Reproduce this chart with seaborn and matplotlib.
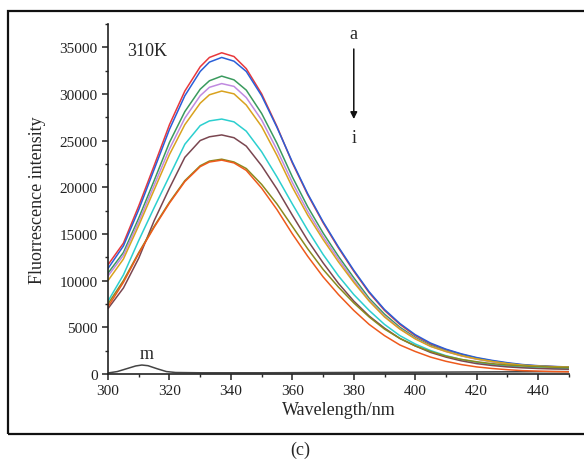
import numpy as np
import pandas as pd
import seaborn as sns
import matplotlib.pyplot as plt
from matplotlib.patches import Rectangle
from matplotlib.ticker import MultipleLocator

wavelength = [300, 305, 310, 315, 320, 325, 330, 333, 337, 341, 345, 350, 355, 360, 365, 370, 375, 380,
              385, 390, 395, 400, 405, 410, 415, 420, 425, 430, 435, 440, 445, 450]

a = [11700, 14000, 18000, 22300, 26700, 30300, 32900, 33900, 34400, 34000, 32700, 30000, 26500, 22600, 19200,
     16200, 13500, 11000, 8700, 6800, 5300, 4100, 3200, 2600, 2100, 1700, 1400, 1150, 950, 850, 780, 720]
b = [11300, 13700, 17600, 21900, 26200, 29800, 32400, 33400, 33900, 33500, 32400, 29800, 26400, 22700, 19300,
     16300, 13600, 11100, 8800, 6900, 5400, 4200, 3300, 2650, 2150, 1750, 1450, 1200, 1000, 880, 800, 740]
c = [10800, 13000, 16700, 20700, 24800, 28100, 30500, 31400, 31900, 31500, 30400, 27900, 24700, 21100, 17900,
     15100, 12600, 10300, 8100, 6400, 5000, 3900, 3050, 2450, 1980, 1620, 1340, 1100, 920, 820, 750, 700]
d = [10500, 12700, 16300, 20200, 24100, 27400, 29800, 30700, 31100, 30800, 29600, 27200, 24000, 20500, 17400,
     14700, 12300, 10000, 7900, 6200, 4850, 3800, 2950, 2400, 1930, 1570, 1300, 1070, 900, 800, 730, 680]
e = [10000, 12300, 15900, 19700, 23500, 26700, 29000, 29900, 30300, 30000, 28800, 26500, 23400, 20000, 17000,
     14400, 12000, 9800, 7800, 6100, 4800, 3750, 2950, 2400, 1950, 1600, 1330, 1100, 930, 830, 770, 720]
f = [7800, 10600, 14300, 17800, 21200, 24600, 26600, 27100, 27300, 27000, 26000, 23800, 21100, 18200, 15400,
     12800, 10500, 8500, 6800, 5300, 4100, 3200, 2500, 1950, 1550, 1250, 1000, 850, 720, 640, 590, 550]
g = [7000, 9200, 12400, 16400, 19900, 23200, 25000, 25400, 25600, 25300, 24400, 22300, 19800, 17000, 14300,
     11900, 9700, 7800, 6200, 4900, 3800, 3000, 2300, 1800, 1400, 1100, 900, 750, 650, 580, 530, 500]
h = [7500, 10000, 13000, 15800, 18400, 20700, 22300, 22800, 23000, 22700, 22000, 20300, 18200, 15800, 13400,
     11200, 9300, 7600, 6100, 4800, 3800, 3000, 2400, 1900, 1550, 1300, 1100, 950, 850, 780, 720, 680]
i = [7200, 9800, 12900, 15700, 18300, 20600, 22200, 22700, 22900, 22600, 21800, 19900, 17600, 15000, 12600,
     10400, 8500, 6800, 5300, 4100, 3100, 2400, 1800, 1350, 1000, 750, 580, 450, 350, 300, 250, 220]

m_wavelength = [300, 303, 306, 309, 311, 313, 316, 319, 322, 330, 350, 400, 450]
m = [100, 250, 550, 850, 950, 880, 550, 250, 150, 120, 120, 180, 250]

series = {"a": a, "b": b, "c": c, "d": d, "e": e, "f": f, "g": g, "h": h, "i": i}
colors = ["#e8383c", "#2a5fd8", "#3a9a5e", "#c08ae0", "#d9a21e",
          "#2ccfcf", "#7a4650", "#8a8a1e", "#ee5a1c"]

frames = [pd.DataFrame({"Wavelength": wavelength, "Intensity": v, "curve": k}) for k, v in series.items()]
df = pd.concat(frames, ignore_index=True)
df_m = pd.DataFrame({"Wavelength": m_wavelength, "Intensity": m})

sns.set_style("ticks")
plt.rcParams['font.family'] = ['Liberation Serif', 'DejaVu Serif']

fig = plt.figure(figsize=(5.84, 4.60), dpi=100)
ax = fig.add_axes([0.185, 0.185, 0.789, 0.761])

sns.lineplot(data=df_m, x="Wavelength", y="Intensity", color="#444444", lw=1.1, ax=ax)
sns.lineplot(data=df, x="Wavelength", y="Intensity", hue="curve", palette=colors,
             lw=1.1, legend=False, ax=ax)

ax.set_xlim(300, 450)
ax.set_ylim(0, 37500)
ax.xaxis.set_major_locator(MultipleLocator(20))
ax.xaxis.set_minor_locator(MultipleLocator(10))
ax.yaxis.set_major_locator(MultipleLocator(5000))
ax.yaxis.set_minor_locator(MultipleLocator(2500))
ax.tick_params(which="major", direction="out", length=4, width=1.1, labelsize=11, colors="#222222")
ax.tick_params(which="minor", direction="out", length=2.5, width=1.0)
sns.despine(ax=ax)
for s in ["left", "bottom"]:
    ax.spines[s].set_linewidth(1.2)
    ax.spines[s].set_color("#222222")

ax.set_xlabel("Wavelength/nm", fontsize=13, labelpad=3)
ax.set_ylabel("Fluorrescence intensity", fontsize=13, labelpad=10)

ax.text(306.2, 34600, "310K", fontsize=13, va="center", ha="left")
ax.text(380, 36500, "a", fontsize=13, va="center", ha="center")
ax.text(380, 25300, "i", fontsize=13, va="center", ha="center")
ax.annotate("", xy=(380, 27000), xytext=(380, 35100),
            arrowprops=dict(arrowstyle="-|>", color="#111111", lw=1.1, mutation_scale=10))
ax.text(312.7, 2200, "m", fontsize=13, va="center", ha="center")

fig.patches.append(Rectangle((8 / 584, 1 - 435 / 460), 1.0, (435 - 12) / 460,
                             transform=fig.transFigure, fill=False, lw=1.6,
                             edgecolor="#111111", clip_on=False))
fig.text(300 / 584, 1 - 450 / 460, "(c)", fontsize=13, ha="center", va="center")

fig.savefig("out.png", dpi=100)
